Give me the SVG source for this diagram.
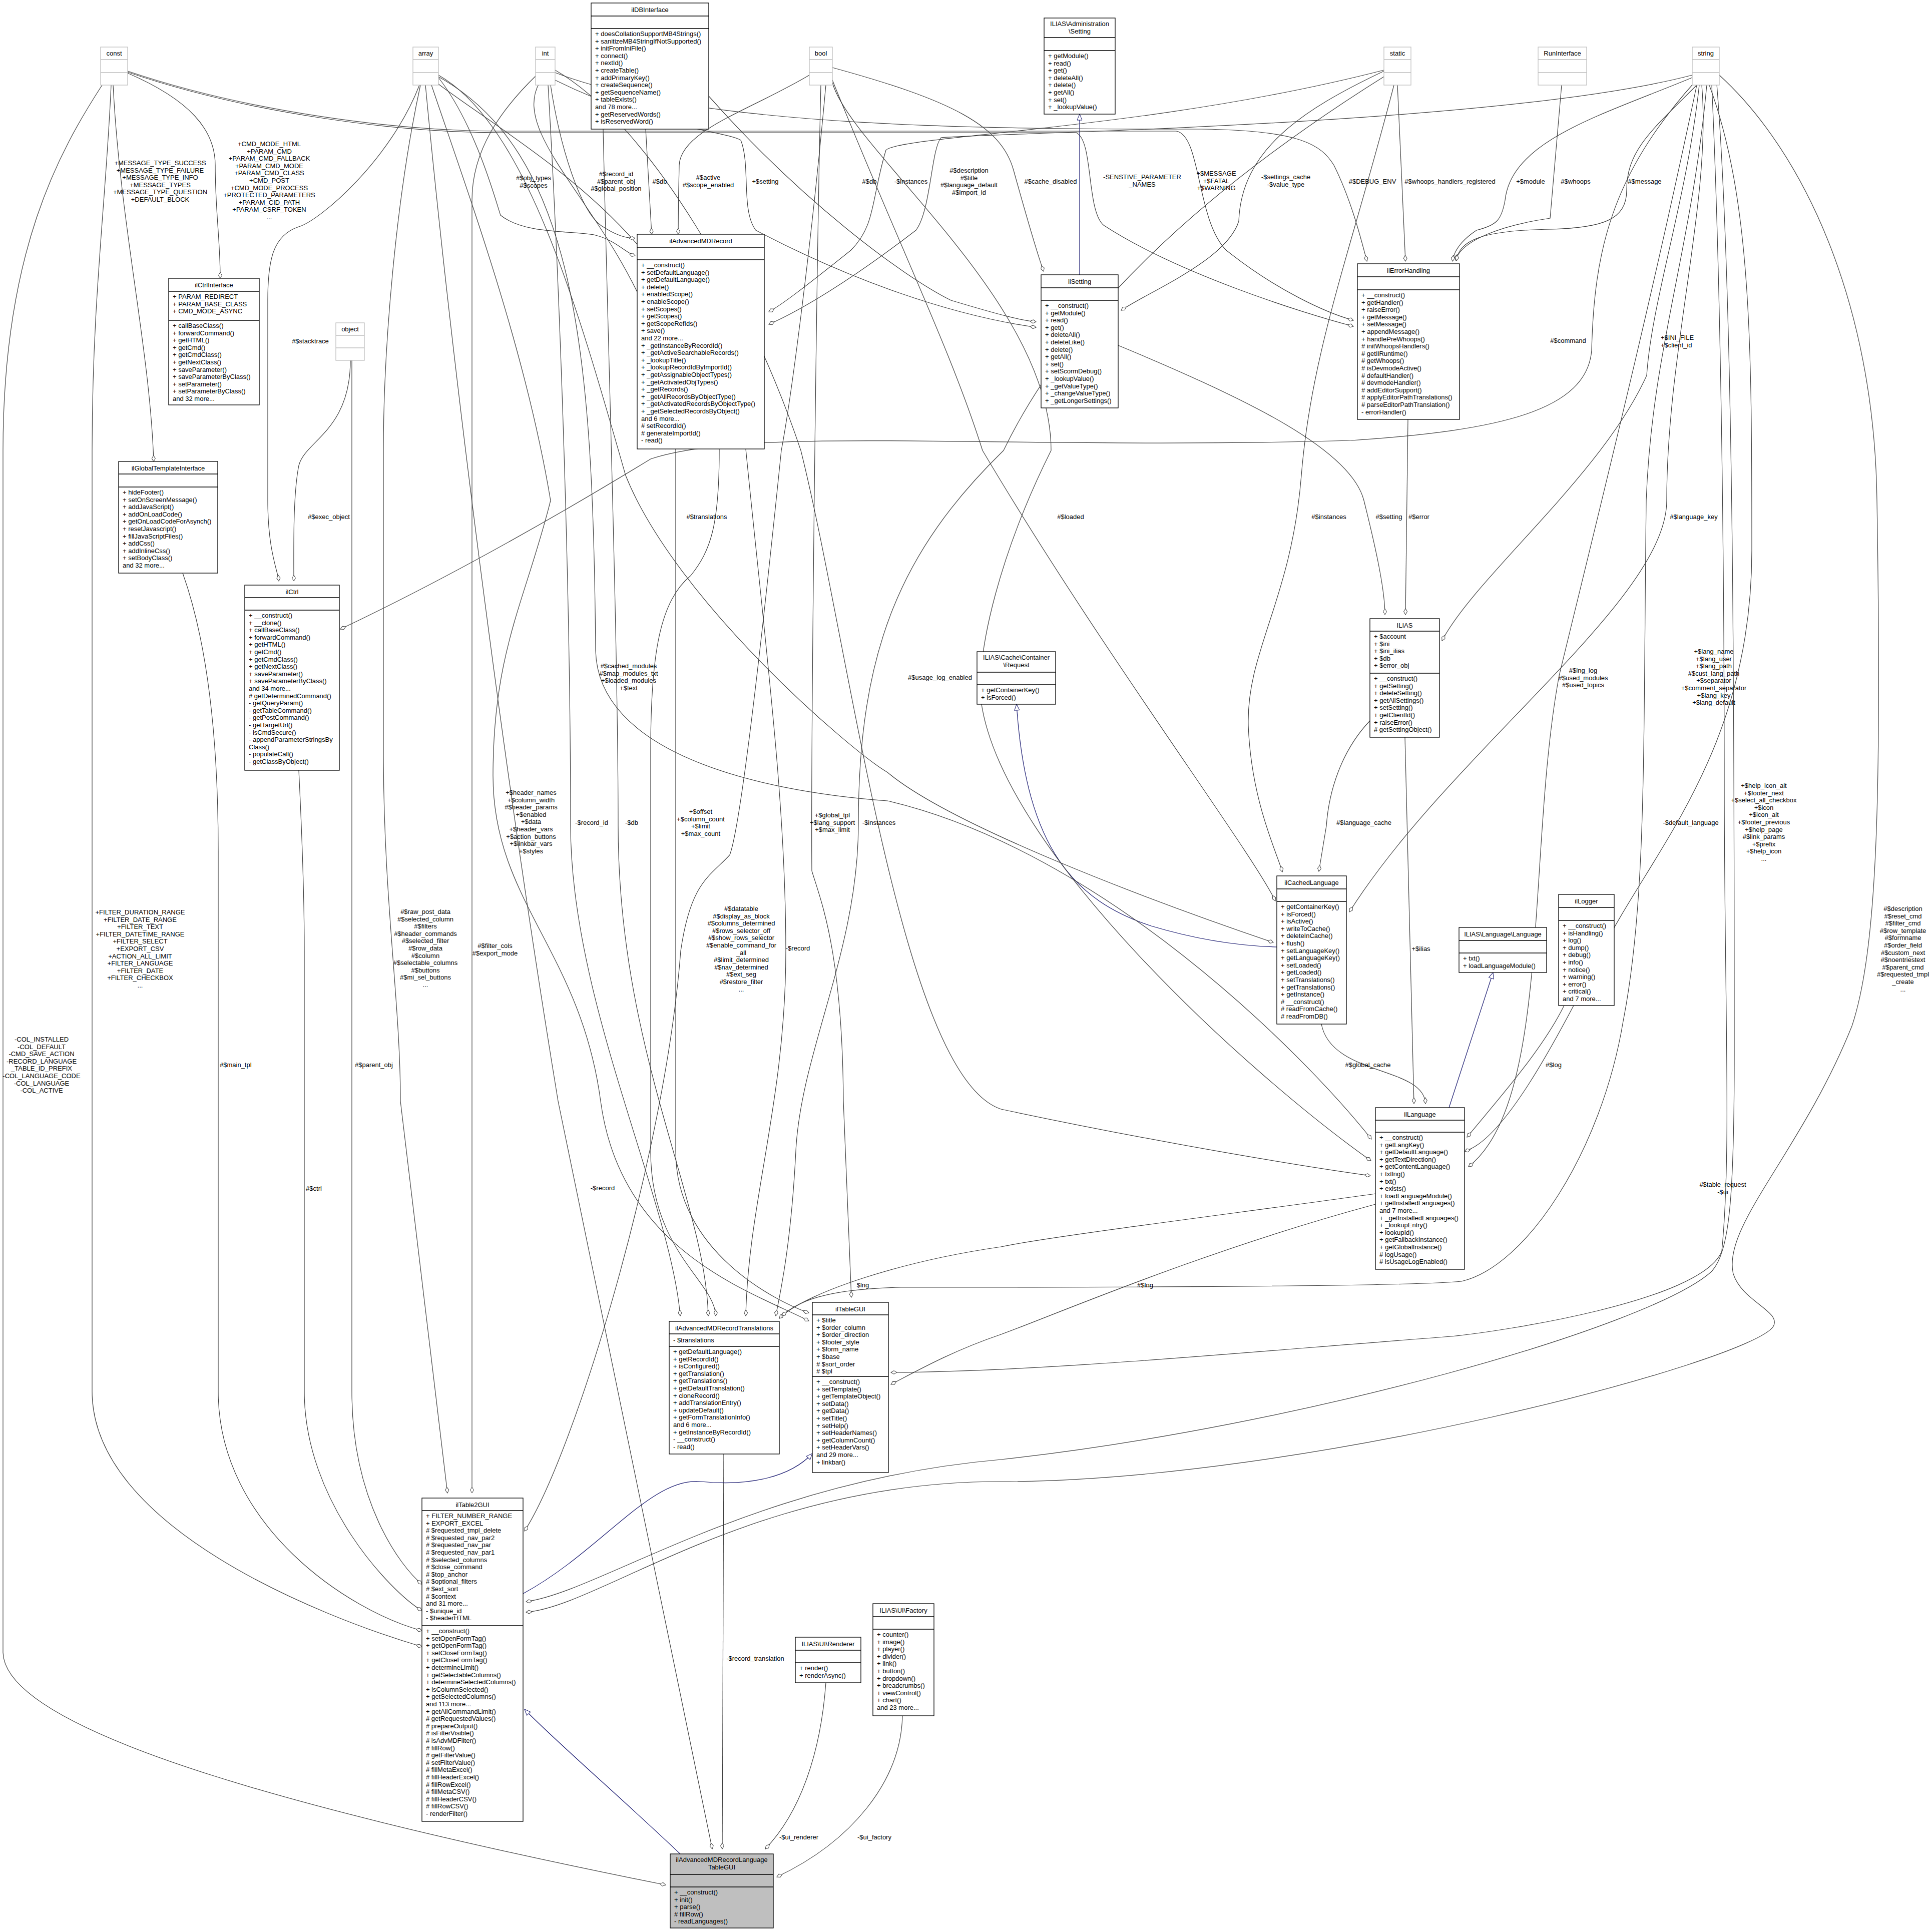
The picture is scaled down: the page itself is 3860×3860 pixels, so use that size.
<svg xmlns="http://www.w3.org/2000/svg" width="3860" height="3860" viewBox="0 0 3860 3860">
<style>
text{font-family:"Liberation Sans",Arial,sans-serif;font-size:13px;fill:#000}
.c{text-anchor:middle}
.n rect{fill:#fff;stroke:#000;stroke-width:1.3}
.n path{stroke:#000;stroke-width:1.3;fill:none}
.g rect{fill:#fff;stroke:#bfbfbf;stroke-width:1.3}
.g path{stroke:#bfbfbf;stroke-width:1.3;fill:none}
.m rect{fill:#bfbfbf;stroke:#000;stroke-width:1.3}
.m path{stroke:#000;stroke-width:1.3;fill:none}
.e path{fill:none;stroke:#404040;stroke-width:1.2;marker-end:url(#d)}
.e path.i{stroke:#191970;marker-end:url(#t)}
</style>
<defs>
<marker id="d" markerWidth="14" markerHeight="10" refX="13" refY="5" orient="auto" markerUnits="userSpaceOnUse"><path d="M1,5 L7,1.5 L13,5 L7,8.5 Z" fill="#fff" stroke="#404040"/></marker>
<marker id="t" markerWidth="14" markerHeight="12" refX="13" refY="6" orient="auto" markerUnits="userSpaceOnUse"><path d="M1,1 L13,6 L1,11 Z" fill="#fff" stroke="#191970"/></marker>
</defs>
<rect width="3860" height="3860" fill="#fff"/>
<g id="edges" class="e">
<path d="M204,170 C120,300 6,500 6,900 L6,3300 C6,3470 700,3640 1330,3766"/>
<path d="M222,170 C212,400 184,600 184,900 L184,2780 C184,3050 640,3230 843,3290"/>
<path d="M226,170 C240,450 300,700 307,922"/>
<path d="M255,146 C380,200 430,260 430,330 C430,420 440,480 440,556"/>
<path d="M255,142 C500,225 800,262 1000,262 L2350,262 C2400,270 2390,440 2450,500 C2550,580 2650,625 2704,640"/>
<path d="M255,144 C500,228 800,265 1000,265 L2150,265 C2185,280 2170,420 2205,450 C2350,545 2600,625 2704,652"/>
<path d="M838,170 C780,320 640,440 597,453 C545,470 535,520 535,600 L535,1000 C535,1100 555,1140 557,1161"/>
<path d="M700,720 C700,860 610,880 597,930 C585,990 587,1100 587,1161"/>
<path d="M597,1539 C605,1700 608,1800 608,1900 L608,2780 C608,3000 780,3180 843,3218"/>
<path d="M703,720 L703,2780 C703,3000 800,3130 843,3165"/>
<path d="M365,1145 C420,1300 436,1500 436,1700 L436,2780 C436,3050 700,3220 843,3258"/>
<path d="M840,170 C790,400 766,700 766,900 L766,1500 C766,1800 800,2000 800,2200 L894,2983"/>
<path d="M1072,150 C1000,220 943,300 943,400 L943,2983"/>
<path d="M1078,165 C1000,300 1350,500 1350,900 L1350,2300 C1350,2500 1550,2600 1616,2623"/>
<path d="M1640,170 C1630,600 1620,1500 1622,1740 C1640,1800 1683,1900 1685,2200 L1701,2592"/>
<path d="M2770,150 C2450,350 2150,600 2005,900 C1800,1100 1715,1300 1715,1646 C1715,1900 1600,2100 1590,2300 C1580,2500 1555,2600 1550,2629"/>
<path d="M872,165 C1050,300 1437,500 1437,900 C1437,1050 1420,1100 1380,1150 C1320,1200 1300,1300 1300,1500 L1300,2300 C1300,2500 1428,2560 1430,2629"/>
<path d="M862,170 C940,400 1050,700 1100,1000 C1050,1200 985,1300 985,1550 C985,1800 1160,1900 1200,2200 C1240,2500 1500,2580 1616,2639"/>
<path d="M1095,170 C1120,600 1140,1200 1140,1650 C1140,2000 1340,2400 1359,2629"/>
<path d="M1205,258 C1215,700 1235,1300 1235,1650 C1235,2100 1410,2400 1415,2629"/>
<path d="M1490,897 C1530,1300 1570,1600 1570,1900 C1570,2200 1495,2400 1490,2629"/>
<path d="M850,170 C900,700 1000,1500 1115,2200 L1423,3694"/>
<path d="M1446,2905 L1443,3694"/>
<path d="M1650,3362 C1640,3500 1600,3620 1529,3694"/>
<path d="M1803,3428 C1800,3560 1700,3680 1552,3750"/>
<path class="i" d="M1359,3704 C1250,3600 1100,3470 1048,3415"/>
<path class="i" d="M1045,3184 C1200,3100 1300,2950 1400,2960 C1500,2970 1580,2950 1623,2904"/>
<path class="i" d="M2551,1892 C2480,1890 2400,1880 2300,1850 C2150,1800 2050,1700 2031,1407"/>
<path class="i" d="M2895,2213 L2983,1943"/>
<path class="i" d="M2157,549 L2157,228"/>
<path d="M3125,2009 C3080,2100 2990,2200 2931,2272"/>
<path d="M2807,1473 L2825,2205"/>
<path d="M2640,2046 C2660,2150 2845,2130 2848,2205"/>
<path d="M2234,690 C2500,800 2700,900 2725,1000 C2750,1100 2767,1180 2767,1228"/>
<path d="M2813,838 L2808,1228"/>
<path d="M3395,170 C3370,400 3300,600 3290,750 C3200,950 2950,1150 2881,1280"/>
<path d="M2785,170 C2700,500 2620,700 2600,950 C2580,1200 2490,1300 2494,1450 C2500,1600 2550,1700 2562,1742"/>
<path d="M2737,1440 C2680,1500 2655,1580 2650,1650 L2635,1741"/>
<path d="M1663,160 C1800,500 1900,700 1963,900 C2200,1300 2500,1700 2548,1800"/>
<path d="M876,150 C1050,250 1150,600 1250,950 C1350,1200 1700,1500 1773,1543 C1900,1650 2300,1800 2544,1883"/>
<path d="M3400,170 C3420,400 3330,700 3330,1000 C3330,1200 2900,1500 2696,1822"/>
<path d="M3390,170 C3300,600 3200,1000 3115,1350 C3050,1700 3100,2200 2934,2331"/>
<path d="M3415,170 C3500,400 3500,700 3500,1100 C3500,1500 3300,1700 3200,1900 C3100,2100 3000,2280 2926,2300"/>
<path d="M3410,170 C3380,500 3300,700 3289,1000 C3283,1500 3290,1800 3243,2040 C3200,2300 3050,2530 2920,2560 C2800,2572 2000,2572 1800,2572 C1650,2575 1590,2600 1557,2634"/>
<path d="M3420,170 C3440,600 3445,1200 3445,1560 C3445,2000 3460,2300 3440,2500 C3400,2600 3000,2660 2900,2670 C2500,2700 2100,2740 1780,2742"/>
<path d="M3430,168 C3465,600 3465,1500 3465,2100 C3465,2400 3455,2500 3420,2540 C3300,2650 2600,2850 2000,2916 C1500,2960 1200,3180 1051,3200"/>
<path d="M3435,150 C3600,300 3745,600 3750,1000 C3760,1600 3750,1900 3700,2050 C3600,2300 3440,2450 3463,2545 C3480,2600 3560,2620 3543,2650 C3500,2720 2600,2960 2000,2960 C1500,2960 1200,3210 1051,3221"/>
<path d="M2748,2385 C2500,2420 2100,2470 2000,2491 C1800,2520 1620,2580 1562,2629"/>
<path d="M2748,2406 C2400,2500 2100,2630 2000,2666 C1900,2700 1830,2740 1780,2766"/>
<path d="M870,150 C1150,300 1185,700 1190,1300 C1195,1500 1500,1580 1773,1600 C2200,1700 2600,2100 2740,2276"/>
<path d="M1663,165 C1700,300 2100,600 2100,900 C2000,1100 1950,1300 1960,1400 C2000,1700 2500,2150 2739,2319"/>
<path d="M1109,140 C1300,250 1500,600 1600,900 C1700,1300 1800,2150 2000,2216 C2300,2280 2600,2330 2738,2349"/>
<path d="M1290,258 L1302,468"/>
<path d="M1617,150 C1500,220 1360,260 1357,330 C1355,400 1355,450 1355,468"/>
<path d="M1100,170 C1120,300 1160,420 1200,450 C1230,470 1250,476 1269,476"/>
<path d="M876,155 C950,250 990,400 1000,430 C1050,470 1150,460 1190,470 C1230,480 1250,505 1269,511"/>
<path d="M2765,140 C2300,260 1800,270 1770,300 C1740,400 1750,450 1700,500 C1600,580 1560,610 1536,623"/>
<path d="M3381,150 C3000,250 2000,265 1880,275 C1860,300 1860,420 1830,460 C1700,560 1600,620 1536,648"/>
<path d="M1663,135 C1900,200 2000,250 2025,340 C2050,430 2070,500 2085,542"/>
<path d="M1416,192 C1600,400 1800,550 1900,600 C2000,630 2040,640 2070,643"/>
<path d="M1109,160 C1300,255 1450,262 1480,280 C1500,330 1480,420 1510,460 C1700,560 1900,630 2070,654"/>
<path d="M2765,142 C2600,220 2480,300 2475,442 C2450,520 2300,580 2240,620"/>
<path d="M1109,145 C1400,258 2000,258 2400,258 C2600,260 2640,290 2665,330 C2700,400 2720,480 2731,522"/>
<path d="M2792,170 L2808,522"/>
<path d="M3381,155 C3200,230 3020,280 3007,400 C3000,440 2990,450 2950,460 C2920,480 2905,500 2902,522"/>
<path d="M3120,170 L3097,436 C3000,450 2920,480 2908,520"/>
<path d="M3390,170 C3300,260 3250,300 3250,380 C3250,440 3200,455 3100,458 C2960,460 2915,480 2910,521"/>
<path d="M3385,165 C3220,350 3185,500 3180,700 C3170,820 3000,860 2700,880 C2000,900 1500,850 1300,917 C1000,1100 800,1200 680,1257"/>
<path d="M1650,170 C1620,500 1580,800 1561,900 C1520,1300 1480,1650 1458,1708 C1420,1750 1380,1760 1360,1900 C1330,2300 1150,2900 1048,3059"/>
<text class="c" x="83" y="2081"><tspan x="83">-COL_INSTALLED</tspan><tspan x="83" dy="14.6">-COL_DEFAULT</tspan><tspan x="83" dy="14.6">-CMD_SAVE_ACTION</tspan><tspan x="83" dy="14.6">-RECORD_LANGUAGE</tspan><tspan x="83" dy="14.6">_TABLE_ID_PREFIX</tspan><tspan x="83" dy="14.6">-COL_LANGUAGE_CODE</tspan><tspan x="83" dy="14.6">-COL_LANGUAGE</tspan><tspan x="83" dy="14.6">-COL_ACTIVE</tspan></text>
<text class="c" x="280" y="1827"><tspan x="280">+FILTER_DURATION_RANGE</tspan><tspan x="280" dy="14.6">+FILTER_DATE_RANGE</tspan><tspan x="280" dy="14.6">+FILTER_TEXT</tspan><tspan x="280" dy="14.6">+FILTER_DATETIME_RANGE</tspan><tspan x="280" dy="14.6">+FILTER_SELECT</tspan><tspan x="280" dy="14.6">+EXPORT_CSV</tspan><tspan x="280" dy="14.6">+ACTION_ALL_LIMIT</tspan><tspan x="280" dy="14.6">+FILTER_LANGUAGE</tspan><tspan x="280" dy="14.6">+FILTER_DATE</tspan><tspan x="280" dy="14.6">+FILTER_CHECKBOX</tspan><tspan x="280" dy="14.6">...</tspan></text>
<text class="c" x="320" y="330"><tspan x="320">+MESSAGE_TYPE_SUCCESS</tspan><tspan x="320" dy="14.6">+MESSAGE_TYPE_FAILURE</tspan><tspan x="320" dy="14.6">+MESSAGE_TYPE_INFO</tspan><tspan x="320" dy="14.6">+MESSAGE_TYPES</tspan><tspan x="320" dy="14.6">+MESSAGE_TYPE_QUESTION</tspan><tspan x="320" dy="14.6">+DEFAULT_BLOCK</tspan></text>
<text class="c" x="538" y="292"><tspan x="538">+CMD_MODE_HTML</tspan><tspan x="538" dy="14.6">+PARAM_CMD</tspan><tspan x="538" dy="14.6">+PARAM_CMD_FALLBACK</tspan><tspan x="538" dy="14.6">+PARAM_CMD_MODE</tspan><tspan x="538" dy="14.6">+PARAM_CMD_CLASS</tspan><tspan x="538" dy="14.6">+CMD_POST</tspan><tspan x="538" dy="14.6">+CMD_MODE_PROCESS</tspan><tspan x="538" dy="14.6">+PROTECTED_PARAMETERS</tspan><tspan x="538" dy="14.6">+PARAM_CID_PATH</tspan><tspan x="538" dy="14.6">+PARAM_CSRF_TOKEN</tspan><tspan x="538" dy="14.6">...</tspan></text>
<text class="c" x="620" y="686">#$stacktrace</text>
<text class="c" x="657" y="1037">#$exec_object</text>
<text class="c" x="1066" y="360"><tspan x="1066">#$obj_types</tspan><tspan x="1066" dy="14.6">#$scopes</tspan></text>
<text class="c" x="1231" y="352"><tspan x="1231">#$record_id</tspan><tspan x="1231" dy="14.6">#$parent_obj</tspan><tspan x="1231" dy="14.6">#$global_position</tspan></text>
<text class="c" x="1318" y="367">#$db</text>
<text class="c" x="1415" y="359"><tspan x="1415">#$active</tspan><tspan x="1415" dy="14.6">#$scope_enabled</tspan></text>
<text class="c" x="1529" y="367">+$setting</text>
<text class="c" x="1737" y="367">#$db</text>
<text class="c" x="1820" y="367">-$instances</text>
<text class="c" x="1936" y="345"><tspan x="1936">#$description</tspan><tspan x="1936" dy="14.6">#$title</tspan><tspan x="1936" dy="14.6">#$language_default</tspan><tspan x="1936" dy="14.6">#$import_id</tspan></text>
<text class="c" x="2099" y="367">#$cache_disabled</text>
<text class="c" x="2282" y="358"><tspan x="2282">-SENSTIVE_PARAMETER</tspan><tspan x="2282" dy="14.6">_NAMES</tspan></text>
<text class="c" x="2430" y="351"><tspan x="2430">+$MESSAGE</tspan><tspan x="2430" dy="14.6">+$FATAL</tspan><tspan x="2430" dy="14.6">+$WARNING</tspan></text>
<text class="c" x="2569" y="358"><tspan x="2569">-$settings_cache</tspan><tspan x="2569" dy="14.6">-$value_type</tspan></text>
<text class="c" x="2742" y="367">#$DEBUG_ENV</text>
<text class="c" x="2897" y="367">#$whoops_handlers_registered</text>
<text class="c" x="3058" y="367">+$module</text>
<text class="c" x="3148" y="367">#$whoops</text>
<text class="c" x="3286" y="367">#$message</text>
<text class="c" x="3133" y="685">#$command</text>
<text x="3318" y="679"><tspan x="3318">+$INI_FILE</tspan><tspan x="3318" dy="14.6">+$client_id</tspan></text>
<text class="c" x="2655" y="1037">#$instances</text>
<text class="c" x="2775" y="1037">#$setting</text>
<text class="c" x="2835" y="1037">#$error</text>
<text class="c" x="3384" y="1037">#$language_key</text>
<text class="c" x="1412" y="1037">#$translations</text>
<text class="c" x="2139" y="1037">#$loaded</text>
<text class="c" x="1256" y="1335"><tspan x="1256">#$cached_modules</tspan><tspan x="1256" dy="14.6">#$map_modules_txt</tspan><tspan x="1256" dy="14.6">+$loaded_modules</tspan><tspan x="1256" dy="14.6">+$text</tspan></text>
<text class="c" x="1878" y="1358">#$usage_log_enabled</text>
<text class="c" x="3163" y="1344"><tspan x="3163">#$lng_log</tspan><tspan x="3163" dy="14.6">#$used_modules</tspan><tspan x="3163" dy="14.6">#$used_topics</tspan></text>
<text class="c" x="3424" y="1306"><tspan x="3424">+$lang_name</tspan><tspan x="3424" dy="14.6">+$lang_user</tspan><tspan x="3424" dy="14.6">+$lang_path</tspan><tspan x="3424" dy="14.6">#$cust_lang_path</tspan><tspan x="3424" dy="14.6">+$separator</tspan><tspan x="3424" dy="14.6">+$comment_separator</tspan><tspan x="3424" dy="14.6">+$lang_key</tspan><tspan x="3424" dy="14.6">+$lang_default</tspan></text>
<text class="c" x="1061" y="1588"><tspan x="1061">+$header_names</tspan><tspan x="1061" dy="14.6">+$column_width</tspan><tspan x="1061" dy="14.6">#$header_params</tspan><tspan x="1061" dy="14.6">+$enabled</tspan><tspan x="1061" dy="14.6">+$data</tspan><tspan x="1061" dy="14.6">+$header_vars</tspan><tspan x="1061" dy="14.6">+$action_buttons</tspan><tspan x="1061" dy="14.6">+$linkbar_vars</tspan><tspan x="1061" dy="14.6">+$styles</tspan></text>
<text class="c" x="1182" y="1648">-$record_id</text>
<text class="c" x="1262" y="1648">-$db</text>
<text class="c" x="1400" y="1626"><tspan x="1400">+$offset</tspan><tspan x="1400" dy="14.6">+$column_count</tspan><tspan x="1400" dy="14.6">+$limit</tspan><tspan x="1400" dy="14.6">+$max_count</tspan></text>
<text class="c" x="1663" y="1633"><tspan x="1663">+$global_tpl</tspan><tspan x="1663" dy="14.6">+$lang_support</tspan><tspan x="1663" dy="14.6">+$max_limit</tspan></text>
<text class="c" x="1756" y="1648">-$instances</text>
<text class="c" x="2725" y="1648">#$language_cache</text>
<text class="c" x="3378" y="1648">-$default_language</text>
<text class="c" x="3524" y="1574"><tspan x="3524">+$help_icon_alt</tspan><tspan x="3524" dy="14.6">+$footer_next</tspan><tspan x="3524" dy="14.6">+$select_all_checkbox</tspan><tspan x="3524" dy="14.6">+$icon</tspan><tspan x="3524" dy="14.6">+$icon_alt</tspan><tspan x="3524" dy="14.6">+$footer_previous</tspan><tspan x="3524" dy="14.6">+$help_page</tspan><tspan x="3524" dy="14.6">#$link_params</tspan><tspan x="3524" dy="14.6">+$prefix</tspan><tspan x="3524" dy="14.6">+$help_icon</tspan><tspan x="3524" dy="14.6">...</tspan></text>
<text class="c" x="3802" y="1820"><tspan x="3802">#$description</tspan><tspan x="3802" dy="14.6">#$reset_cmd</tspan><tspan x="3802" dy="14.6">#$filter_cmd</tspan><tspan x="3802" dy="14.6">#$row_template</tspan><tspan x="3802" dy="14.6">#$formname</tspan><tspan x="3802" dy="14.6">#$order_field</tspan><tspan x="3802" dy="14.6">#$custom_next</tspan><tspan x="3802" dy="14.6">#$noentriestext</tspan><tspan x="3802" dy="14.6">#$parent_cmd</tspan><tspan x="3802" dy="14.6">#$requested_tmpl</tspan><tspan x="3802" dy="14.6">_create</tspan><tspan x="3802" dy="14.6">...</tspan></text>
<text class="c" x="1481" y="1820"><tspan x="1481">#$datatable</tspan><tspan x="1481" dy="14.6">#$display_as_block</tspan><tspan x="1481" dy="14.6">#$columns_determined</tspan><tspan x="1481" dy="14.6">#$rows_selector_off</tspan><tspan x="1481" dy="14.6">#$show_rows_selector</tspan><tspan x="1481" dy="14.6">#$enable_command_for</tspan><tspan x="1481" dy="14.6">_all</tspan><tspan x="1481" dy="14.6">#$limit_determined</tspan><tspan x="1481" dy="14.6">#$nav_determined</tspan><tspan x="1481" dy="14.6">#$ext_seg</tspan><tspan x="1481" dy="14.6">#$restore_filter</tspan><tspan x="1481" dy="14.6">...</tspan></text>
<text class="c" x="1594" y="1899">-$record</text>
<text class="c" x="850" y="1826"><tspan x="850">#$raw_post_data</tspan><tspan x="850" dy="14.6">#$selected_column</tspan><tspan x="850" dy="14.6">#$filters</tspan><tspan x="850" dy="14.6">#$header_commands</tspan><tspan x="850" dy="14.6">#$selected_filter</tspan><tspan x="850" dy="14.6">#$row_data</tspan><tspan x="850" dy="14.6">#$column</tspan><tspan x="850" dy="14.6">#$selectable_columns</tspan><tspan x="850" dy="14.6">#$buttons</tspan><tspan x="850" dy="14.6">#$mi_sel_buttons</tspan><tspan x="850" dy="14.6">...</tspan></text>
<text class="c" x="989" y="1894"><tspan x="989">#$filter_cols</tspan><tspan x="989" dy="14.6">#$export_mode</tspan></text>
<text x="439" y="2132">#$main_tpl</text>
<text x="709" y="2132">#$parent_obj</text>
<text class="c" x="2733" y="2132">#$global_cache</text>
<text class="c" x="3104" y="2132">#$log</text>
<text class="c" x="2839" y="1900">+$ilias</text>
<text class="c" x="1204" y="2378">-$record</text>
<text class="c" x="627" y="2379">#$ctrl</text>
<text class="c" x="1724" y="2572">$lng</text>
<text class="c" x="2288" y="2572">#$lng</text>
<text class="c" x="3442" y="2371"><tspan x="3442">#$table_request</tspan><tspan x="3442" dy="14.6">-$ui</tspan></text>
<text class="c" x="1509" y="3318">-$record_translation</text>
<text class="c" x="1596" y="3675">-$ui_renderer</text>
<text class="c" x="1747" y="3675">-$ui_factory</text>
</g>
<g id="n_const" class="g"><rect x="201" y="94" width="54" height="76"/><path d="M201,119H255M201,145H255"/><text class="c" x="228" y="111">const</text></g>
<g id="n_array" class="g"><rect x="825" y="94" width="51" height="76"/><path d="M825,119H876M825,145H876"/><text class="c" x="850.5" y="111">array</text></g>
<g id="n_int" class="g"><rect x="1070" y="94" width="39" height="76"/><path d="M1070,119H1109M1070,145H1109"/><text class="c" x="1089.5" y="111">int</text></g>
<g id="n_bool" class="g"><rect x="1617" y="94" width="46" height="76"/><path d="M1617,119H1663M1617,145H1663"/><text class="c" x="1640" y="111">bool</text></g>
<g id="n_static" class="g"><rect x="2765" y="94" width="54" height="76"/><path d="M2765,119H2819M2765,145H2819"/><text class="c" x="2792" y="111">static</text></g>
<g id="n_runinterface" class="g"><rect x="3073" y="94" width="97" height="76"/><path d="M3073,119H3170M3073,145H3170"/><text class="c" x="3121.5" y="111">RunInterface</text></g>
<g id="n_string" class="g"><rect x="3381" y="94" width="54" height="76"/><path d="M3381,119H3435M3381,145H3435"/><text class="c" x="3408" y="111">string</text></g>
<g id="n_object" class="g"><rect x="671" y="645" width="57" height="75"/><path d="M671,670H728M671,695H728"/><text class="c" x="699.5" y="662">object</text></g>
<g id="n_ildbinterface" class="n"><rect x="1181" y="6" width="235" height="252"/><path d="M1181,32H1416M1181,57H1416"/><text class="c" x="1298.5" y="24">ilDBInterface</text>
<text x="1189" y="72"><tspan x="1189">+ doesCollationSupportMB4Strings()</tspan><tspan x="1189" dy="14.6">+ sanitizeMB4StringIfNotSupported()</tspan><tspan x="1189" dy="14.6">+ initFromIniFile()</tspan><tspan x="1189" dy="14.6">+ connect()</tspan><tspan x="1189" dy="14.6">+ nextId()</tspan><tspan x="1189" dy="14.6">+ createTable()</tspan><tspan x="1189" dy="14.6">+ addPrimaryKey()</tspan><tspan x="1189" dy="14.6">+ createSequence()</tspan><tspan x="1189" dy="14.6">+ getSequenceName()</tspan><tspan x="1189" dy="14.6">+ tableExists()</tspan><tspan x="1189" dy="14.6">and 78 more...</tspan><tspan x="1189" dy="14.6">+ getReservedWords()</tspan><tspan x="1189" dy="14.6">+ isReservedWord()</tspan></text></g>
<g id="n_adminsetting" class="n"><rect x="2086" y="36" width="142" height="192"/><path d="M2086,75H2228M2086,101H2228"/><text class="c" x="2157" y="52"><tspan x="2157">ILIAS\Administration</tspan><tspan x="2157" dy="15">\Setting</tspan></text>
<text x="2094" y="116"><tspan x="2094">+ getModule()</tspan><tspan x="2094" dy="14.6">+ read()</tspan><tspan x="2094" dy="14.6">+ get()</tspan><tspan x="2094" dy="14.6">+ deleteAll()</tspan><tspan x="2094" dy="14.6">+ delete()</tspan><tspan x="2094" dy="14.6">+ getAll()</tspan><tspan x="2094" dy="14.6">+ set()</tspan><tspan x="2094" dy="14.6">+ _lookupValue()</tspan></text></g>
<g id="n_iladvancedmdrecord" class="n"><rect x="1273" y="468" width="254" height="429"/><path d="M1273,494H1527M1273,519H1527"/><text class="c" x="1400" y="486">ilAdvancedMDRecord</text>
<text x="1281" y="534"><tspan x="1281">+ __construct()</tspan><tspan x="1281" dy="14.6">+ setDefaultLanguage()</tspan><tspan x="1281" dy="14.6">+ getDefaultLanguage()</tspan><tspan x="1281" dy="14.6">+ delete()</tspan><tspan x="1281" dy="14.6">+ enabledScope()</tspan><tspan x="1281" dy="14.6">+ enableScope()</tspan><tspan x="1281" dy="14.6">+ setScopes()</tspan><tspan x="1281" dy="14.6">+ getScopes()</tspan><tspan x="1281" dy="14.6">+ getScopeRefIds()</tspan><tspan x="1281" dy="14.6">+ save()</tspan><tspan x="1281" dy="14.6">and 22 more...</tspan><tspan x="1281" dy="14.6">+ _getInstanceByRecordId()</tspan><tspan x="1281" dy="14.6">+ _getActiveSearchableRecords()</tspan><tspan x="1281" dy="14.6">+ _lookupTitle()</tspan><tspan x="1281" dy="14.6">+ _lookupRecordIdByImportId()</tspan><tspan x="1281" dy="14.6">+ _getAssignableObjectTypes()</tspan><tspan x="1281" dy="14.6">+ _getActivatedObjTypes()</tspan><tspan x="1281" dy="14.6">+ _getRecords()</tspan><tspan x="1281" dy="14.6">+ _getAllRecordsByObjectType()</tspan><tspan x="1281" dy="14.6">+ _getActivatedRecordsByObjectType()</tspan><tspan x="1281" dy="14.6">+ _getSelectedRecordsByObject()</tspan><tspan x="1281" dy="14.6">and 6 more...</tspan><tspan x="1281" dy="14.6"># setRecordId()</tspan><tspan x="1281" dy="14.6"># generateImportId()</tspan><tspan x="1281" dy="14.6">- read()</tspan></text></g>
<g id="n_ilsetting" class="n"><rect x="2080" y="549" width="154" height="266"/><path d="M2080,575H2234M2080,600H2234"/><text class="c" x="2157" y="567">ilSetting</text>
<text x="2088" y="615"><tspan x="2088">+ __construct()</tspan><tspan x="2088" dy="14.6">+ getModule()</tspan><tspan x="2088" dy="14.6">+ read()</tspan><tspan x="2088" dy="14.6">+ get()</tspan><tspan x="2088" dy="14.6">+ deleteAll()</tspan><tspan x="2088" dy="14.6">+ deleteLike()</tspan><tspan x="2088" dy="14.6">+ delete()</tspan><tspan x="2088" dy="14.6">+ getAll()</tspan><tspan x="2088" dy="14.6">+ set()</tspan><tspan x="2088" dy="14.6">+ setScormDebug()</tspan><tspan x="2088" dy="14.6">+ _lookupValue()</tspan><tspan x="2088" dy="14.6">+ _getValueType()</tspan><tspan x="2088" dy="14.6">+ _changeValueType()</tspan><tspan x="2088" dy="14.6">+ _getLongerSettings()</tspan></text></g>
<g id="n_ilerrorhandling" class="n"><rect x="2712" y="527" width="204" height="311"/><path d="M2712,553H2916M2712,579H2916"/><text class="c" x="2814" y="545">ilErrorHandling</text>
<text x="2720" y="594"><tspan x="2720">+ __construct()</tspan><tspan x="2720" dy="14.6">+ getHandler()</tspan><tspan x="2720" dy="14.6">+ raiseError()</tspan><tspan x="2720" dy="14.6">+ getMessage()</tspan><tspan x="2720" dy="14.6">+ setMessage()</tspan><tspan x="2720" dy="14.6">+ appendMessage()</tspan><tspan x="2720" dy="14.6">+ handlePreWhoops()</tspan><tspan x="2720" dy="14.6"># initWhoopsHandlers()</tspan><tspan x="2720" dy="14.6"># getIlRuntime()</tspan><tspan x="2720" dy="14.6"># getWhoops()</tspan><tspan x="2720" dy="14.6"># isDevmodeActive()</tspan><tspan x="2720" dy="14.6"># defaultHandler()</tspan><tspan x="2720" dy="14.6"># devmodeHandler()</tspan><tspan x="2720" dy="14.6"># addEditorSupport()</tspan><tspan x="2720" dy="14.6"># applyEditorPathTranslations()</tspan><tspan x="2720" dy="14.6"># parseEditorPathTranslation()</tspan><tspan x="2720" dy="14.6">- errorHandler()</tspan></text></g>
<g id="n_ilctrlinterface" class="n"><rect x="337" y="556" width="181" height="253"/><path d="M337,582H518M337,640H518"/><text class="c" x="427.5" y="574">ilCtrlInterface</text>
<text x="345" y="597"><tspan x="345">+ PARAM_REDIRECT</tspan><tspan x="345" dy="14.6">+ PARAM_BASE_CLASS</tspan><tspan x="345" dy="14.6">+ CMD_MODE_ASYNC</tspan></text>
<text x="345" y="655"><tspan x="345">+ callBaseClass()</tspan><tspan x="345" dy="14.6">+ forwardCommand()</tspan><tspan x="345" dy="14.6">+ getHTML()</tspan><tspan x="345" dy="14.6">+ getCmd()</tspan><tspan x="345" dy="14.6">+ getCmdClass()</tspan><tspan x="345" dy="14.6">+ getNextClass()</tspan><tspan x="345" dy="14.6">+ saveParameter()</tspan><tspan x="345" dy="14.6">+ saveParameterByClass()</tspan><tspan x="345" dy="14.6">+ setParameter()</tspan><tspan x="345" dy="14.6">+ setParameterByClass()</tspan><tspan x="345" dy="14.6">and 32 more...</tspan></text></g>
<g id="n_ilglobaltemplateinterface" class="n"><rect x="237" y="922" width="198" height="223"/><path d="M237,947H435M237,973H435"/><text class="c" x="336" y="940">ilGlobalTemplateInterface</text>
<text x="245" y="988"><tspan x="245">+ hideFooter()</tspan><tspan x="245" dy="14.6">+ setOnScreenMessage()</tspan><tspan x="245" dy="14.6">+ addJavaScript()</tspan><tspan x="245" dy="14.6">+ addOnLoadCode()</tspan><tspan x="245" dy="14.6">+ getOnLoadCodeForAsynch()</tspan><tspan x="245" dy="14.6">+ resetJavascript()</tspan><tspan x="245" dy="14.6">+ fillJavaScriptFiles()</tspan><tspan x="245" dy="14.6">+ addCss()</tspan><tspan x="245" dy="14.6">+ addInlineCss()</tspan><tspan x="245" dy="14.6">+ setBodyClass()</tspan><tspan x="245" dy="14.6">and 32 more...</tspan></text></g>
<g id="n_ilctrl" class="n"><rect x="489" y="1169" width="189" height="370"/><path d="M489,1194H678M489,1219H678"/><text class="c" x="583.5" y="1187">ilCtrl</text>
<text x="497" y="1234"><tspan x="497">+ __construct()</tspan><tspan x="497" dy="14.6">+ __clone()</tspan><tspan x="497" dy="14.6">+ callBaseClass()</tspan><tspan x="497" dy="14.6">+ forwardCommand()</tspan><tspan x="497" dy="14.6">+ getHTML()</tspan><tspan x="497" dy="14.6">+ getCmd()</tspan><tspan x="497" dy="14.6">+ getCmdClass()</tspan><tspan x="497" dy="14.6">+ getNextClass()</tspan><tspan x="497" dy="14.6">+ saveParameter()</tspan><tspan x="497" dy="14.6">+ saveParameterByClass()</tspan><tspan x="497" dy="14.6">and 34 more...</tspan><tspan x="497" dy="14.6"># getDeterminedCommand()</tspan><tspan x="497" dy="14.6">- getQueryParam()</tspan><tspan x="497" dy="14.6">- getTableCommand()</tspan><tspan x="497" dy="14.6">- getPostCommand()</tspan><tspan x="497" dy="14.6">- getTargetUrl()</tspan><tspan x="497" dy="14.6">- isCmdSecure()</tspan><tspan x="497" dy="14.6">- appendParameterStringsBy</tspan><tspan x="497" dy="14.6">Class()</tspan><tspan x="497" dy="14.6">- populateCall()</tspan><tspan x="497" dy="14.6">- getClassByObject()</tspan></text></g>
<g id="n_cacherequest" class="n"><rect x="1952" y="1302" width="157" height="105"/><path d="M1952,1343H2109M1952,1368H2109"/><text class="c" x="2030.5" y="1318"><tspan x="2030.5">ILIAS\Cache\Container</tspan><tspan x="2030.5" dy="15">\Request</tspan></text>
<text x="1960" y="1383"><tspan x="1960">+ getContainerKey()</tspan><tspan x="1960" dy="14.6">+ isForced()</tspan></text></g>
<g id="n_ilias" class="n"><rect x="2737" y="1236" width="139" height="237"/><path d="M2737,1261H2876M2737,1345H2876"/><text class="c" x="2806.5" y="1254">ILIAS</text>
<text x="2745" y="1276"><tspan x="2745">+ $account</tspan><tspan x="2745" dy="14.6">+ $ini</tspan><tspan x="2745" dy="14.6">+ $ini_ilias</tspan><tspan x="2745" dy="14.6">+ $db</tspan><tspan x="2745" dy="14.6">+ $error_obj</tspan></text>
<text x="2745" y="1360"><tspan x="2745">+ __construct()</tspan><tspan x="2745" dy="14.6">+ getSetting()</tspan><tspan x="2745" dy="14.6">+ deleteSetting()</tspan><tspan x="2745" dy="14.6">+ getAllSettings()</tspan><tspan x="2745" dy="14.6">+ setSetting()</tspan><tspan x="2745" dy="14.6">+ getClientId()</tspan><tspan x="2745" dy="14.6">+ raiseError()</tspan><tspan x="2745" dy="14.6"># getSettingObject()</tspan></text></g>
<g id="n_ilcachedlanguage" class="n"><rect x="2551" y="1750" width="139" height="296"/><path d="M2551,1776H2690M2551,1801H2690"/><text class="c" x="2620.5" y="1768">ilCachedLanguage</text>
<text x="2559" y="1816"><tspan x="2559">+ getContainerKey()</tspan><tspan x="2559" dy="14.6">+ isForced()</tspan><tspan x="2559" dy="14.6">+ isActive()</tspan><tspan x="2559" dy="14.6">+ writeToCache()</tspan><tspan x="2559" dy="14.6">+ deleteInCache()</tspan><tspan x="2559" dy="14.6">+ flush()</tspan><tspan x="2559" dy="14.6">+ setLanguageKey()</tspan><tspan x="2559" dy="14.6">+ getLanguageKey()</tspan><tspan x="2559" dy="14.6">+ setLoaded()</tspan><tspan x="2559" dy="14.6">+ getLoaded()</tspan><tspan x="2559" dy="14.6">+ setTranslations()</tspan><tspan x="2559" dy="14.6">+ getTranslations()</tspan><tspan x="2559" dy="14.6">+ getInstance()</tspan><tspan x="2559" dy="14.6"># __construct()</tspan><tspan x="2559" dy="14.6"># readFromCache()</tspan><tspan x="2559" dy="14.6"># readFromDB()</tspan></text></g>
<g id="n_langlanguage" class="n"><rect x="2915" y="1853" width="175" height="90"/><path d="M2915,1879H3090M2915,1904H3090"/><text class="c" x="3002.5" y="1871">ILIAS\Language\Language</text>
<text x="2923" y="1919"><tspan x="2923">+ txt()</tspan><tspan x="2923" dy="14.6">+ loadLanguageModule()</tspan></text></g>
<g id="n_illogger" class="n"><rect x="3114" y="1787" width="111" height="222"/><path d="M3114,1813H3225M3114,1839H3225"/><text class="c" x="3169.5" y="1805">ilLogger</text>
<text x="3122" y="1854"><tspan x="3122">+ __construct()</tspan><tspan x="3122" dy="14.6">+ isHandling()</tspan><tspan x="3122" dy="14.6">+ log()</tspan><tspan x="3122" dy="14.6">+ dump()</tspan><tspan x="3122" dy="14.6">+ debug()</tspan><tspan x="3122" dy="14.6">+ info()</tspan><tspan x="3122" dy="14.6">+ notice()</tspan><tspan x="3122" dy="14.6">+ warning()</tspan><tspan x="3122" dy="14.6">+ error()</tspan><tspan x="3122" dy="14.6">+ critical()</tspan><tspan x="3122" dy="14.6">and 7 more...</tspan></text></g>
<g id="n_illanguage" class="n"><rect x="2748" y="2213" width="178" height="323"/><path d="M2748,2238H2926M2748,2262H2926"/><text class="c" x="2837" y="2231">ilLanguage</text>
<text x="2756" y="2277"><tspan x="2756">+ __construct()</tspan><tspan x="2756" dy="14.6">+ getLangKey()</tspan><tspan x="2756" dy="14.6">+ getDefaultLanguage()</tspan><tspan x="2756" dy="14.6">+ getTextDirection()</tspan><tspan x="2756" dy="14.6">+ getContentLanguage()</tspan><tspan x="2756" dy="14.6">+ txtlng()</tspan><tspan x="2756" dy="14.6">+ txt()</tspan><tspan x="2756" dy="14.6">+ exists()</tspan><tspan x="2756" dy="14.6">+ loadLanguageModule()</tspan><tspan x="2756" dy="14.6">+ getInstalledLanguages()</tspan><tspan x="2756" dy="14.6">and 7 more...</tspan><tspan x="2756" dy="14.6">+ _getInstalledLanguages()</tspan><tspan x="2756" dy="14.6">+ _lookupEntry()</tspan><tspan x="2756" dy="14.6">+ lookupId()</tspan><tspan x="2756" dy="14.6">+ getFallbackInstance()</tspan><tspan x="2756" dy="14.6">+ getGlobalInstance()</tspan><tspan x="2756" dy="14.6"># logUsage()</tspan><tspan x="2756" dy="14.6"># isUsageLogEnabled()</tspan></text></g>
<g id="n_iltable2gui" class="n"><rect x="843" y="2993" width="202" height="646"/><path d="M843,3018H1045M843,3248H1045"/><text class="c" x="944" y="3011">ilTable2GUI</text>
<text x="851" y="3033"><tspan x="851">+ FILTER_NUMBER_RANGE</tspan><tspan x="851" dy="14.6">+ EXPORT_EXCEL</tspan><tspan x="851" dy="14.6"># $requested_tmpl_delete</tspan><tspan x="851" dy="14.6"># $requested_nav_par2</tspan><tspan x="851" dy="14.6"># $requested_nav_par</tspan><tspan x="851" dy="14.6"># $requested_nav_par1</tspan><tspan x="851" dy="14.6"># $selected_columns</tspan><tspan x="851" dy="14.6"># $close_command</tspan><tspan x="851" dy="14.6"># $top_anchor</tspan><tspan x="851" dy="14.6"># $optional_filters</tspan><tspan x="851" dy="14.6"># $ext_sort</tspan><tspan x="851" dy="14.6"># $context</tspan><tspan x="851" dy="14.6">and 31 more...</tspan><tspan x="851" dy="14.6">- $unique_id</tspan><tspan x="851" dy="14.6">- $headerHTML</tspan></text>
<text x="851" y="3263"><tspan x="851">+ __construct()</tspan><tspan x="851" dy="14.6">+ setOpenFormTag()</tspan><tspan x="851" dy="14.6">+ getOpenFormTag()</tspan><tspan x="851" dy="14.6">+ setCloseFormTag()</tspan><tspan x="851" dy="14.6">+ getCloseFormTag()</tspan><tspan x="851" dy="14.6">+ determineLimit()</tspan><tspan x="851" dy="14.6">+ getSelectableColumns()</tspan><tspan x="851" dy="14.6">+ determineSelectedColumns()</tspan><tspan x="851" dy="14.6">+ isColumnSelected()</tspan><tspan x="851" dy="14.6">+ getSelectedColumns()</tspan><tspan x="851" dy="14.6">and 113 more...</tspan><tspan x="851" dy="14.6">+ getAllCommandLimit()</tspan><tspan x="851" dy="14.6"># getRequestedValues()</tspan><tspan x="851" dy="14.6"># prepareOutput()</tspan><tspan x="851" dy="14.6"># isFilterVisible()</tspan><tspan x="851" dy="14.6"># isAdvMDFilter()</tspan><tspan x="851" dy="14.6"># fillRow()</tspan><tspan x="851" dy="14.6"># getFilterValue()</tspan><tspan x="851" dy="14.6"># setFilterValue()</tspan><tspan x="851" dy="14.6"># fillMetaExcel()</tspan><tspan x="851" dy="14.6"># fillHeaderExcel()</tspan><tspan x="851" dy="14.6"># fillRowExcel()</tspan><tspan x="851" dy="14.6"># fillMetaCSV()</tspan><tspan x="851" dy="14.6"># fillHeaderCSV()</tspan><tspan x="851" dy="14.6"># fillRowCSV()</tspan><tspan x="851" dy="14.6">- renderFilter()</tspan></text></g>
<g id="n_translations" class="n"><rect x="1337" y="2640" width="220" height="265"/><path d="M1337,2665H1557M1337,2690H1557"/><text class="c" x="1447" y="2658">ilAdvancedMDRecordTranslations</text>
<text x="1345" y="2682">- $translations</text>
<text x="1345" y="2705"><tspan x="1345">+ getDefaultLanguage()</tspan><tspan x="1345" dy="14.6">+ getRecordId()</tspan><tspan x="1345" dy="14.6">+ isConfigured()</tspan><tspan x="1345" dy="14.6">+ getTranslation()</tspan><tspan x="1345" dy="14.6">+ getTranslations()</tspan><tspan x="1345" dy="14.6">+ getDefaultTranslation()</tspan><tspan x="1345" dy="14.6">+ cloneRecord()</tspan><tspan x="1345" dy="14.6">+ addTranslationEntry()</tspan><tspan x="1345" dy="14.6">+ updateDefault()</tspan><tspan x="1345" dy="14.6">+ getFormTranslationInfo()</tspan><tspan x="1345" dy="14.6">and 6 more...</tspan><tspan x="1345" dy="14.6">+ getInstanceByRecordId()</tspan><tspan x="1345" dy="14.6">- __construct()</tspan><tspan x="1345" dy="14.6">- read()</tspan></text></g>
<g id="n_iltablegui" class="n"><rect x="1623" y="2602" width="152" height="340"/><path d="M1623,2627H1775M1623,2750H1775"/><text class="c" x="1699" y="2620">ilTableGUI</text>
<text x="1631" y="2642"><tspan x="1631">+ $title</tspan><tspan x="1631" dy="14.6">+ $order_column</tspan><tspan x="1631" dy="14.6">+ $order_direction</tspan><tspan x="1631" dy="14.6">+ $footer_style</tspan><tspan x="1631" dy="14.6">+ $form_name</tspan><tspan x="1631" dy="14.6">+ $base</tspan><tspan x="1631" dy="14.6"># $sort_order</tspan><tspan x="1631" dy="14.6"># $tpl</tspan></text>
<text x="1631" y="2765"><tspan x="1631">+ __construct()</tspan><tspan x="1631" dy="14.6">+ setTemplate()</tspan><tspan x="1631" dy="14.6">+ getTemplateObject()</tspan><tspan x="1631" dy="14.6">+ setData()</tspan><tspan x="1631" dy="14.6">+ getData()</tspan><tspan x="1631" dy="14.6">+ setTitle()</tspan><tspan x="1631" dy="14.6">+ setHelp()</tspan><tspan x="1631" dy="14.6">+ setHeaderNames()</tspan><tspan x="1631" dy="14.6">+ getColumnCount()</tspan><tspan x="1631" dy="14.6">+ setHeaderVars()</tspan><tspan x="1631" dy="14.6">and 29 more...</tspan><tspan x="1631" dy="14.6">+ linkbar()</tspan></text></g>
<g id="n_uirenderer" class="n"><rect x="1589" y="3271" width="131" height="91"/><path d="M1589,3297H1720M1589,3322H1720"/><text class="c" x="1654.5" y="3289">ILIAS\UI\Renderer</text>
<text x="1597" y="3337"><tspan x="1597">+ render()</tspan><tspan x="1597" dy="14.6">+ renderAsync()</tspan></text></g>
<g id="n_uifactory" class="n"><rect x="1744" y="3204" width="122" height="224"/><path d="M1744,3230H1866M1744,3255H1866"/><text class="c" x="1805" y="3222">ILIAS\UI\Factory</text>
<text x="1752" y="3270"><tspan x="1752">+ counter()</tspan><tspan x="1752" dy="14.6">+ image()</tspan><tspan x="1752" dy="14.6">+ player()</tspan><tspan x="1752" dy="14.6">+ divider()</tspan><tspan x="1752" dy="14.6">+ link()</tspan><tspan x="1752" dy="14.6">+ button()</tspan><tspan x="1752" dy="14.6">+ dropdown()</tspan><tspan x="1752" dy="14.6">+ breadcrumbs()</tspan><tspan x="1752" dy="14.6">+ viewControl()</tspan><tspan x="1752" dy="14.6">+ chart()</tspan><tspan x="1752" dy="14.6">and 23 more...</tspan></text></g>
<g id="n_main" class="m"><rect x="1339" y="3704" width="206" height="148"/><path d="M1339,3745H1545M1339,3770H1545"/><text class="c" x="1442" y="3720"><tspan x="1442">ilAdvancedMDRecordLanguage</tspan><tspan x="1442" dy="15">TableGUI</tspan></text>
<text x="1347" y="3785"><tspan x="1347">+ __construct()</tspan><tspan x="1347" dy="14.6">+ init()</tspan><tspan x="1347" dy="14.6">+ parse()</tspan><tspan x="1347" dy="14.6"># fillRow()</tspan><tspan x="1347" dy="14.6">- readLanguages()</tspan></text></g>
</svg>
